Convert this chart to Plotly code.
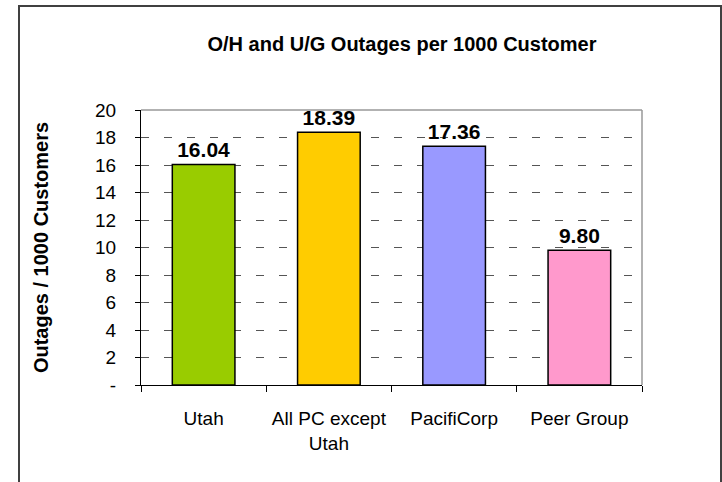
import plotly.graph_objects as go

categories = ["Utah", "All PC except<br>Utah", "PacifiCorp", "Peer Group"]
values = [16.04, 18.39, 17.36, 9.80]
colors = ["#99CC00", "#FFCC00", "#9999FF", "#FF99CC"]
tick_vals = [0, 2, 4, 6, 8, 10, 12, 14, 16, 18, 20]
tick_text = ["-", "2", "4", "6", "8", "10", "12", "14", "16", "18", "20"]

FONT = "Liberation Sans, Arial, sans-serif"

fig = go.Figure(go.Bar(
    x=categories, y=values,
    marker=dict(color=colors, line=dict(color="black", width=1.5)),
    width=0.5,
    text=[f"{v:.2f}" for v in values],
    textposition="outside",
    textfont=dict(family=FONT, size=21, color="black", weight="bold"),
    cliponaxis=False,
))

W, H = 722, 482
L, R, T, B = 141, 80, 110, 97
pw, ph = W - L - R, H - T - B

def px(x):
    return (x - L) / pw

def py(y):
    return (H - B - y) / ph

shapes = [
    dict(type="rect", xref="paper", yref="paper", x0=px(19), x1=px(721), y0=py(490), y1=py(6),
         line=dict(color="#404040", width=2), fillcolor="rgba(0,0,0,0)", layer="below"),
    dict(type="line", xref="paper", yref="paper", x0=0, x1=1, y0=1, y1=1,
         line=dict(color="#999999", width=1.5)),
    dict(type="line", xref="paper", yref="paper", x0=1, x1=1, y0=0, y1=1,
         line=dict(color="#999999", width=1.5)),
]

fig.update_layout(
    width=W, height=H,
    margin=dict(l=L, r=R, t=T, b=B, pad=0, autoexpand=False),
    paper_bgcolor="white", plot_bgcolor="white",
    showlegend=False,
    font=dict(family=FONT, color="black"),
    title=dict(text="O/H and U/G Outages per 1000 Customer",
               x=402 / W, xanchor="center", y=1 - 44 / H, yanchor="middle",
               font=dict(family=FONT, size=20, color="black", weight="bold")),
    shapes=shapes,
)

fig.update_yaxes(
    range=[0, 20], tickvals=tick_vals, ticktext=tick_text,
    tickfont=dict(family=FONT, size=19, color="black"),
    ticks="outside", ticklen=5, tickcolor="black",
    showgrid=True, gridcolor="#555555", griddash="8px,15px", gridwidth=1,
    showline=True, linecolor="black", linewidth=1,
    zeroline=False,
    ticklabelstandoff=15,
    automargin=False,
    title=dict(text="Outages / 1000 Customers",
               font=dict(family=FONT, size=20, color="black", weight="bold"),
               standoff=41),
)

fig.update_xaxes(
    tickfont=dict(family=FONT, size=19, color="black"),
    ticks="outside", ticklen=6, tickcolor="black", tickson="boundaries",
    showline=True, linecolor="black", linewidth=1,
    showgrid=False,
    automargin=False,
    ticklabelstandoff=16,
)

fig.write_html("out.html", config={"displayModeBar": False},
               post_script="document.body.style.margin='0';")
